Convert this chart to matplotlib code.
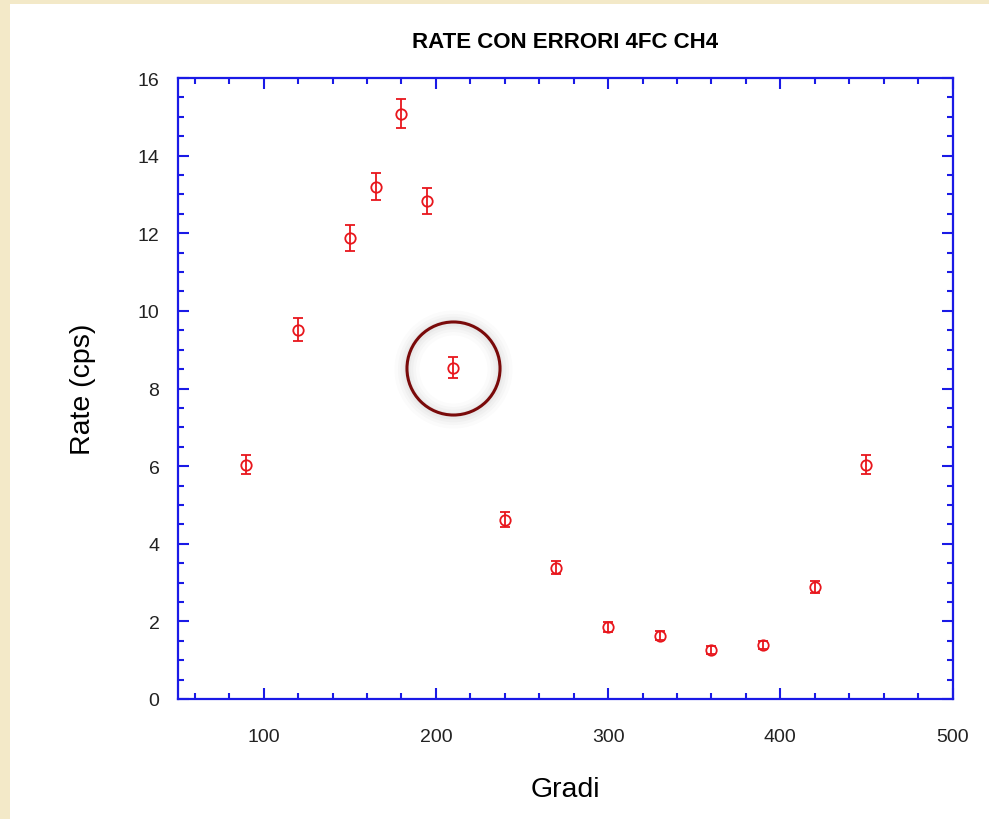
import numpy as np
import matplotlib
matplotlib.use("Agg")
import matplotlib.pyplot as plt
from matplotlib.patches import Rectangle
from matplotlib.ticker import MultipleLocator

# dati
gradi = [90, 120, 150, 165, 180, 195, 210, 240, 270, 300, 330, 360, 390, 420, 450]
rate = [6.04, 9.52, 11.87, 13.2, 15.08, 12.83, 8.54, 4.62, 3.38, 1.86, 1.63, 1.26, 1.39, 2.89, 6.04]
errori = [0.24, 0.30, 0.33, 0.35, 0.37, 0.34, 0.28, 0.20, 0.17, 0.13, 0.12, 0.11, 0.11, 0.16, 0.24]
punto_evidenziato = 6  # indice del punto cerchiato (210 gradi)

plt.rcParams['font.family'] = ['Liberation Sans', 'DejaVu Sans']

fig = plt.figure(figsize=(9.89, 8.2), dpi=100, facecolor='#f3e9c8')
# pannello bianco
fig.add_artist(Rectangle((10 / 989, 0), 1, 1 - 5 / 820, transform=fig.transFigure,
                         facecolor='white', edgecolor='none', zorder=-10))

ax = fig.add_axes([177.5 / 989, 1 - 700 / 820, 775 / 989, 621 / 820])
ax.set_facecolor('white')

blu = '#1a1ae6'
rosso = '#e8161c'

ax.errorbar(gradi, rate, yerr=errori, fmt='o', color=rosso, mfc='none', mec=rosso,
            ms=7.5, mew=1.3, elinewidth=1.3, capsize=3.5, capthick=1.3, zorder=3)

# cerchio con ombra attorno al punto a 210 gradi
xp, yp = gradi[punto_evidenziato], rate[punto_evidenziato]
for lw, a in [(18, 0.03), (13, 0.04), (9, 0.05), (5, 0.06)]:
    ax.plot([xp], [yp - 0.05], 'o', ms=67, mfc='none', mec='#888888', mew=lw, alpha=a, zorder=2)
ax.plot([xp], [yp], 'o', ms=67, mfc='none', mec='#7a0a0a', mew=2.2, zorder=4)

ax.set_xlim(50, 500)
ax.set_ylim(0, 16)
ax.xaxis.set_major_locator(MultipleLocator(100))
ax.xaxis.set_minor_locator(MultipleLocator(20))
ax.yaxis.set_major_locator(MultipleLocator(2))
ax.yaxis.set_minor_locator(MultipleLocator(0.5))

for s in ax.spines.values():
    s.set_color(blu)
    s.set_linewidth(1.6)

ax.tick_params(which='both', direction='in', top=True, right=True, color=blu, width=1.5,
               labelcolor='#222222', labelsize=14)
ax.tick_params(which='major', length=8)
ax.tick_params(which='minor', length=4.5)
ax.tick_params(axis='x', which='major', pad=21)
ax.tick_params(axis='y', which='major', pad=13)

ax.set_title('RATE CON ERRORI 4FC CH4', fontsize=16, fontweight='bold', pad=22)
ax.set_xlabel('Gradi', fontsize=20.5, labelpad=22)
ax.set_ylabel('Rate (cps)', fontsize=20.5, labelpad=30)

fig.savefig('out.png', dpi=100, facecolor=fig.get_facecolor())
